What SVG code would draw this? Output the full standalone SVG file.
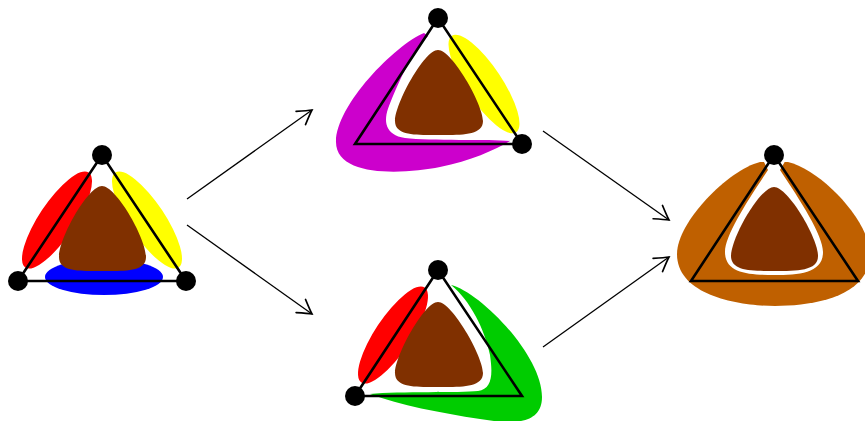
<svg xmlns="http://www.w3.org/2000/svg" width="865" height="421" viewBox="0 0 865 421">
<defs>
<style>
.tri{fill:none;stroke:#000;stroke-width:2.6;stroke-linejoin:miter}
.dot{fill:#000}
.brown{fill:#803000}
.conn{fill:none;stroke:#000;stroke-width:1.3}
</style>
<marker id="to" markerUnits="userSpaceOnUse" markerWidth="20" markerHeight="20" viewBox="-12 -8 14 16" refX="0" refY="0" orient="auto">
<path d="M-11,-6.5 Q-3,-1.5 0,0 Q-3,1.5 -11,6.5" fill="none" stroke="#000" stroke-width="1.3" stroke-linecap="round"/>
</marker>
</defs>
<rect width="865" height="421" fill="#fff"/>

<g id="fig1">
<ellipse cx="57" cy="220" rx="57" ry="18" fill="#ff0000" transform="rotate(-56.3 57 220)"/>
<ellipse cx="147" cy="220" rx="57" ry="18" fill="#ffff00" transform="rotate(56.3 147 220)"/>
<ellipse cx="104" cy="277" rx="59" ry="18" fill="#0000ff"/>
<path class="brown" d="M102,186 C116,186 146,238 146,257 C146,272 125,271 102,271 C79,271 59,272 59,257 C59,238 88,186 102,186 Z"/>
<path class="tri" d="M102,155 L18,281 L186,281 Z"/>
<circle class="dot" cx="102" cy="155" r="10"/>
<circle class="dot" cx="18" cy="281" r="10"/>
<circle class="dot" cx="186" cy="281" r="10"/>
</g>

<g id="fig2">
<path fill="#cc00cc" d="M424,33 C395,45 336,105 336,142 C336,178 405,174 440,167 C470,161 495,150 510,141 C490,139 430,141 405,138 C385,135 383,121 389,106 C397,86 410,55 428,36 Z"/>
<ellipse cx="484" cy="84" rx="58" ry="18" fill="#ffff00" transform="rotate(56.3 484 84)"/>
<path class="brown" d="M438,50 C452,50 483,104 483,121 C483,136 460,135 438,135 C416,135 395,136 395,121 C395,104 424,50 438,50 Z"/>
<path class="tri" d="M438,18 L355,144 L522,144 Z"/>
<circle class="dot" cx="438" cy="18" r="10"/>
<circle class="dot" cx="522" cy="144" r="10"/>
</g>

<g id="fig3">
<ellipse cx="393" cy="335" rx="57" ry="18" fill="#ff0000" transform="rotate(-56.3 393 335)"/>
<path fill="#00cc00" d="M451,285 C480,292 542,355 542,397 C542,426 510,424 480,419 C440,413 400,405 370,394 C400,391 460,393 478,391 C492,389 493,375 490,355 C485,330 470,300 451,285 Z"/>
<path class="brown" d="M438,302 C452,302 483,356 483,373 C483,388 460,387 438,387 C416,387 395,388 395,373 C395,356 424,302 438,302 Z"/>
<path class="tri" d="M438,270 L355,396 L522,396 Z"/>
<circle class="dot" cx="438" cy="270" r="10"/>
<circle class="dot" cx="355" cy="396" r="10"/>
</g>

<g id="fig4">
<path fill="#bf6000" d="M760,162 C728,170 677,222 677,254 C677,296 740,306 775,306 C815,306 870,296 870,254 C870,222 822,170 788,162 Z"/>
<path fill="#fff" d="M762,158 L787,158 L780,170 C800,200 823,235 823,252 C823,273 800,275 774,275 C748,275 725,273 725,252 C725,235 748,200 768,170 Z"/>
<path class="brown" d="M774,187 C788,187 818,238 818,256 C818,271 797,271 774,271 C751,271 731,271 731,256 C731,238 760,187 774,187 Z"/>
<path class="tri" d="M774,155 L691,281 L858,281 Z"/>
<circle class="dot" cx="774" cy="155" r="10"/>
</g>

<g id="connectors">
<line class="conn" x1="187" y1="199" x2="312" y2="110" marker-end="url(#to)"/>
<line class="conn" x1="187" y1="225" x2="312" y2="314" marker-end="url(#to)"/>
<line class="conn" x1="543" y1="131" x2="669" y2="220" marker-end="url(#to)"/>
<line class="conn" x1="543" y1="347" x2="669" y2="257" marker-end="url(#to)"/>
</g>
</svg>
